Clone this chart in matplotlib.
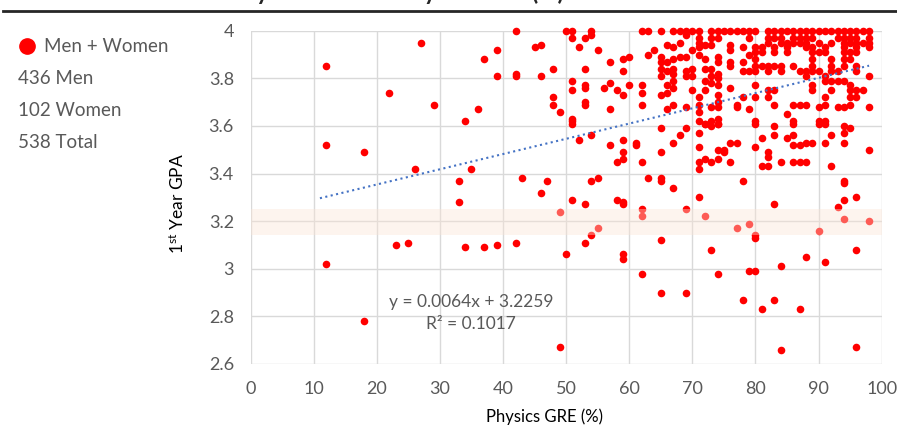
import matplotlib
matplotlib.use("Agg")
import matplotlib.pyplot as plt
import numpy as np
from matplotlib.lines import Line2D

plt.rcParams['font.family'] = ['Lato', 'DejaVu Sans']
plt.rcParams['mathtext.fontset'] = 'custom'
plt.rcParams['mathtext.rm'] = 'Lato'
plt.rcParams['mathtext.it'] = 'Lato:italic'

# (Physics GRE percentile, 1st year GPA)
sparse_points = [
    (12, 3.85), (12, 3.52), (12, 3.02), (18, 3.49), (18, 2.78), (22, 3.74), (23, 3.10),
    (25, 3.11), (26, 3.42), (27, 3.95), (29, 3.69), (33, 3.37), (33, 3.28), (34, 3.62),
    (34, 3.09), (35, 3.42), (36, 3.67), (37, 3.88), (37, 3.09), (39, 3.92), (39, 3.81),
    (39, 3.10), (42, 4.00), (42, 3.82), (42, 3.81), (42, 3.11), (43, 3.38), (45, 3.93),
    (46, 3.94), (46, 3.81), (46, 3.32), (47, 3.37),
]

mid_points = [
    (48, 3.84), (48, 3.72), (48, 3.69), (49, 3.66), (49, 3.24), (49, 2.67), (50, 4.00),
    (50, 3.06), (51, 4.00), (51, 3.97), (51, 3.79), (51, 3.75), (51, 3.63), (51, 3.62),
    (51, 3.61), (51, 3.29), (52, 3.93), (52, 3.54), (53, 3.97), (53, 3.84), (53, 3.77),
    (53, 3.76), (53, 3.70), (53, 3.69), (53, 3.27), (53, 3.11), (54, 4.00), (54, 3.98),
    (54, 3.56), (54, 3.37), (54, 3.14), (55, 3.92), (55, 3.38), (55, 3.17), (56, 3.76),
    (57, 3.87), (57, 3.78), (57, 3.67), (57, 3.52), (58, 3.75), (58, 3.45), (58, 3.29),
    (59, 3.88), (59, 3.83), (59, 3.73), (59, 3.54), (59, 3.49), (59, 3.46), (59, 3.28),
    (59, 3.27), (59, 3.06), (59, 3.04), (60, 3.89), (60, 3.77), (61, 3.53), (61, 3.52),
]

dense_left_points = [
    (62, 4.00), (63, 4.00), (65, 4.00), (67, 4.00), (68, 4.00), (69, 4.00), (70, 4.00),
    (71, 4.00), (73, 4.00), (74, 4.00), (75, 4.00), (76, 4.00), (77, 4.00), (78, 4.00),
    (79, 4.00),
    (69, 3.98), (71, 3.97), (71, 3.95), (73, 3.97), (74, 3.97), (73, 3.94), (72, 3.94),
    (71, 3.93), (66, 3.94), (67, 3.93), (68, 3.95), (64, 3.92), (63, 3.90), (70, 3.92),
    (71, 3.90), (72, 3.88), (74, 3.89), (74, 3.87), (76, 3.94), (76, 3.92), (76, 3.87),
    (76, 3.85), (65, 3.89), (65, 3.87), (66, 3.87), (67, 3.88), (68, 3.89), (69, 3.89),
    (65, 3.84), (65, 3.81), (66, 3.83), (67, 3.84), (67, 3.82), (69, 3.83), (69, 3.81),
    (70, 3.84), (70, 3.81), (72, 3.84), (73, 3.84), (73, 3.81), (74, 3.82), (74, 3.80),
    (72, 3.79), (73, 3.78), (74, 3.77), (78, 3.87), (78, 3.83), (79, 3.83), (62, 3.77),
    (62, 3.74), (62, 3.69), (65, 3.73), (66, 3.74), (67, 3.76), (67, 3.79), (66, 3.77),
    (70, 3.75), (71, 3.72), (72, 3.75), (74, 3.73), (74, 3.70), (74, 3.68), (76, 3.76),
    (66, 3.67), (67, 3.69), (69, 3.68), (71, 3.66), (73, 3.68), (71, 3.62), (72, 3.61),
    (74, 3.63), (74, 3.61), (71, 3.69), (77, 3.69), (77, 3.68), (78, 3.72), (79, 3.67),
    (73, 3.62), (73, 3.60), (79, 3.97), (78, 3.93), (79, 3.90),
]

# right part of the dense cloud, row by row: gpa -> gre values
dense_right_rows = {
    4.00: [80, 82, 83, 84, 85, 86, 87, 88, 89, 90, 91, 92, 93, 94, 95, 96, 97, 98],
    3.97: [82, 83, 84, 86, 87, 88, 89, 93, 94, 95, 96, 98],
    3.95: [82, 84, 85, 86, 87, 88, 90, 92, 94, 95, 96, 97, 98],
    3.93: [80, 81, 83, 85, 88, 89, 91, 94, 96, 98],
    3.91: [80, 81, 83, 85, 89, 90, 91, 94, 95, 96],
    3.88: [80, 89, 92, 94, 95],
    3.85: [80, 81, 82, 83, 84, 86, 89, 92, 94, 96],
    3.83: [80, 82, 84, 87, 88, 89, 90, 92, 93, 96],
    3.81: [88, 91, 98],
    3.79: [91, 92, 93, 94],
    3.77: [80, 89, 95],
    3.75: [82, 83, 89, 92, 95, 96, 97],
    3.72: [80, 82, 91, 95, 96],
    3.69: [83, 86, 87, 88, 91, 95],
    3.68: [90, 93, 94, 98],
    3.65: [85],
    3.62: [80, 86, 90, 91],
}

lower_points = [
    (62, 3.45), (62, 3.25), (62, 3.22), (62, 2.98), (63, 3.38), (65, 3.59), (65, 3.49),
    (65, 3.38), (65, 3.37), (65, 3.12), (65, 2.90), (67, 3.53), (67, 3.34), (68, 3.56),
    (69, 3.59), (69, 3.25), (69, 2.90), (71, 3.57), (71, 3.51), (71, 3.45), (71, 3.42),
    (71, 3.30), (72, 3.46), (72, 3.22), (73, 3.45), (73, 3.08), (74, 3.46), (74, 3.50),
    (74, 2.98), (75, 3.50), (75, 3.49), (76, 3.53), (76, 3.45), (77, 3.53), (77, 3.17),
    (78, 3.37), (78, 2.87), (79, 3.19), (79, 2.99), (80, 3.51), (80, 3.14), (80, 3.13),
    (80, 2.99), (81, 3.55), (81, 3.43), (81, 2.83), (82, 3.43), (82, 3.49), (82, 3.47),
    (83, 3.56), (83, 3.27), (83, 2.87), (84, 3.45), (84, 3.01), (84, 2.66), (85, 3.55),
    (86, 3.56), (86, 3.52), (86, 3.45), (87, 3.52), (87, 3.45), (87, 2.83), (88, 3.53),
    (88, 3.45), (88, 3.05), (89, 3.53), (90, 3.16), (91, 3.53), (91, 3.03), (92, 3.56),
    (92, 3.43), (93, 3.26), (94, 3.57), (94, 3.53), (94, 3.37), (94, 3.36), (94, 3.29),
    (94, 3.21), (95, 3.59), (96, 3.30), (96, 3.08), (96, 2.67), (98, 3.50), (98, 3.20),
    (72, 3.61), (74, 3.61), (80, 3.61), (83, 3.60), (86, 3.61), (90, 3.61), (91, 3.61),
    (94, 3.60),
]

legend_lines = ["436 Men", "102 Women", "538 Total"]
slope, intercept, r2 = 0.0064, 3.2259, 0.1017
band_lo, band_hi = 3.143, 3.25
x_ticks = np.arange(0, 101, 10)
y_ticks = [2.6, 2.8, 3.0, 3.2, 3.4, 3.6, 3.8, 4.0]

pts = sparse_points + mid_points + dense_left_points + lower_points
for g, xs in dense_right_rows.items():
    pts += [(x, g) for x in xs]
pts = np.array(pts)
gre = pts[:, 0]
gpa = pts[:, 1]

W, H = 897, 425
fig = plt.figure(figsize=(W / 100, H / 100), dpi=100)
ax = fig.add_axes([250.5 / W, 1 - 364 / H, (881.7 - 250.5) / W, (364 - 30.7) / H])

gray = '#595959'
ax.scatter(gre, gpa, s=30, color='#FF0000', linewidths=0, zorder=3, clip_on=False)
ax.axhspan(band_lo, band_hi, color='#FBE5D6', alpha=0.4, lw=0, zorder=4)

# trend line spans the data range
xx = np.array([gre.min() - 1, gre.max()])
ax.plot(xx, slope * xx + intercept, ls=':', color='#4472C4', lw=1.5, zorder=5)

ax.set_xlim(0, 100)
ax.set_ylim(2.6, 4.0)
ax.set_xticks(x_ticks)
ax.set_yticks(y_ticks)
ax.set_yticklabels(['2.6', '2.8', '3', '3.2', '3.4', '3.6', '3.8', '4'])
ax.tick_params(length=0, pad=12, labelsize=13, labelcolor=gray)
ax.grid(True, color='#d9d9d9', lw=1)
ax.set_axisbelow(True)
for s in ax.spines.values():
    s.set_visible(False)

fig.text(471 / W, 1 - 302 / H, f'y = {slope}x + {intercept}', fontsize=12.5, color=gray,
         ha='center', va='center')
fig.text(471 / W, 1 - 324 / H, f'R² = {r2}', fontsize=12.5, color=gray,
         ha='center', va='center')

fig.text(544 / W, 1 - 417 / H, 'Physics GRE (%)', fontsize=12, color='black',
         ha='center', va='center')
fig.text(178 / W, 1 - 203 / H, r'1$^{\mathrm{st}}$ Year GPA', fontsize=12.5, color='black',
         ha='center', va='center', rotation=90)

# left legend block
fig.add_artist(Line2D([27 / W], [1 - 46 / H], marker='o', ms=11, color='#FF0000', lw=0))
fig.text(44 / W, 1 - 46 / H, 'Men + Women', fontsize=13.5, color=gray, va='center')
for i, t in enumerate(legend_lines):
    fig.text(18 / W, 1 - (78 + 32 * i) / H, t, fontsize=13.5, color=gray, va='center')

# title cut off at the top, with rule beneath
fig.text(200 / W, 1 + 0.5 / H, 'First-year GPA vs. Physics GRE (%)', fontsize=17,
         fontweight='bold', color='#262626', ha='left', va='baseline')
fig.add_artist(Line2D([3 / W, 1], [1 - 10.7 / H] * 2, color='#262626', lw=2))

fig.savefig('out.png', dpi=100)
